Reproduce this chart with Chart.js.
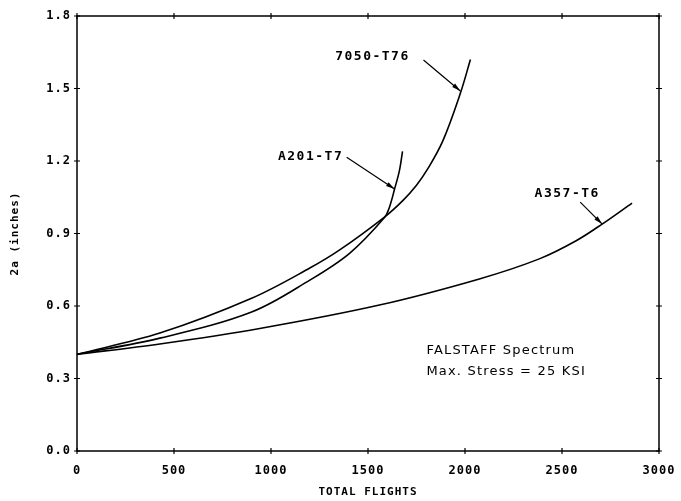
<!DOCTYPE html>
<html>
<head>
<meta charset="utf-8">
<script src="https://cdn.jsdelivr.net/npm/chart.js@4.4.0/dist/chart.umd.min.js"></script>
<style>
  html, body { margin: 0; padding: 0; background: #fff; }
</style>
</head>
<body>
<canvas id="crackChart" width="681" height="501"></canvas>
<script>
// tick values
const xTicks = [0, 500, 1000, 1500, 2000, 2500, 3000];
const yTicks = [0, 0.3, 0.6, 0.9, 1.2, 1.5, 1.8];

// crack length 2a (inches) vs total flights
const flights7050 = [0, 427, 900, 1200, 1354, 1585, 1678, 1750, 1806, 1884, 1976, 2028];
const crack7050   = [0.40, 0.488, 0.632, 0.757, 0.832, 0.968, 1.035, 1.10, 1.165, 1.28, 1.48, 1.62];

const flightsA201 = [0, 427, 900, 1200, 1405, 1585, 1611, 1637, 1662, 1678];
const crackA201   = [0.40, 0.467, 0.575, 0.707, 0.818, 0.966, 1.01, 1.084, 1.16, 1.24];

const flightsA357 = [0, 427, 942, 1559, 2074, 2383, 2573, 2707, 2861];
const crackA357   = [0.40, 0.443, 0.507, 0.604, 0.712, 0.795, 0.87, 0.939, 1.026];

// callouts: label centre, arrow start, arrow tip (data units)
const callouts = [
    { text: '7050-T76', label: [1523, 1.63], from: [1786, 1.618], to: [1976, 1.49] },
    { text: 'A201-T7', label: [1204, 1.22], from: [1390, 1.216], to: [1637, 1.084] },
    { text: 'A357-T6', label: [2527, 1.067], from: [2594, 1.03], to: [2707, 0.939] }
];
const noteLines = ['FALSTAFF Spectrum', 'Max. Stress = 25 KSI'];
const notePos = [1801, 0.414, 0.327];

function toPoints(xs, ys) {
    return xs.map((x, i) => ({ x: x, y: ys[i] }));
}

function curve(xs, ys) {
    return {
        data: toPoints(xs, ys),
        showLine: true,
        borderColor: '#000',
        borderWidth: 1.6,
        pointRadius: 0,
        tension: 0.35,
        fill: false
    };
}

const spacing = {
    id: 'spacing',
    beforeDraw(chart) {
        chart.ctx.letterSpacing = '1px';
    }
};

// frame with ticks crossing all four sides, callouts and the note
const frame = {
    id: 'frame',
    afterDraw(chart) {
        const ctx = chart.ctx;
        const a = chart.chartArea;
        const xs = chart.scales.x;
        const ys = chart.scales.y;
        ctx.save();
        ctx.strokeStyle = '#000';
        ctx.lineWidth = 1.5;
        ctx.strokeRect(a.left, a.top, a.right - a.left, a.bottom - a.top);
        ctx.lineWidth = 1.2;
        ctx.beginPath();
        xTicks.forEach(v => {
            const px = xs.getPixelForValue(v);
            ctx.moveTo(px, a.bottom - 3); ctx.lineTo(px, a.bottom + 3);
            ctx.moveTo(px, a.top - 3); ctx.lineTo(px, a.top + 3);
        });
        yTicks.forEach(v => {
            const py = ys.getPixelForValue(v);
            ctx.moveTo(a.left - 3, py); ctx.lineTo(a.left + 3, py);
            ctx.moveTo(a.right - 3, py); ctx.lineTo(a.right + 3, py);
        });
        ctx.stroke();

        ctx.fillStyle = '#000';
        ctx.letterSpacing = '1.5px';
        ctx.font = 'bold 13px "DejaVu Sans Mono"';
        ctx.textAlign = 'center';
        ctx.textBaseline = 'middle';
        callouts.forEach(c => {
            ctx.fillText(c.text, xs.getPixelForValue(c.label[0]), ys.getPixelForValue(c.label[1]));
            const x1 = xs.getPixelForValue(c.from[0]), y1 = ys.getPixelForValue(c.from[1]);
            const x2 = xs.getPixelForValue(c.to[0]), y2 = ys.getPixelForValue(c.to[1]);
            ctx.lineWidth = 1.2;
            ctx.beginPath();
            ctx.moveTo(x1, y1); ctx.lineTo(x2, y2);
            ctx.stroke();
            const ang = Math.atan2(y2 - y1, x2 - x1);
            ctx.beginPath();
            ctx.moveTo(x2, y2);
            ctx.lineTo(x2 - 9 * Math.cos(ang - 0.25), y2 - 9 * Math.sin(ang - 0.25));
            ctx.lineTo(x2 - 9 * Math.cos(ang + 0.25), y2 - 9 * Math.sin(ang + 0.25));
            ctx.closePath();
            ctx.fill();
        });

        ctx.font = '13px "DejaVu Sans"';
        ctx.letterSpacing = '1.2px';
        ctx.textAlign = 'left';
        ctx.fillText(noteLines[0], xs.getPixelForValue(notePos[0]), ys.getPixelForValue(notePos[1]));
        ctx.fillText(noteLines[1], xs.getPixelForValue(notePos[0]), ys.getPixelForValue(notePos[2]));
        ctx.restore();
    }
};

const ctx = document.getElementById('crackChart').getContext('2d');
const chart = new Chart(ctx, {
    type: 'scatter',
    data: {
        datasets: [
            curve(flights7050, crack7050),
            curve(flightsA201, crackA201),
            curve(flightsA357, crackA357)
        ]
    },
    options: {
        responsive: false,
        animation: false,
        layout: { padding: { top: 16, right: 22, left: 0, bottom: 0 } },
        plugins: {
            legend: { display: false },
            tooltip: { enabled: false }
        },
        scales: {
            x: {
                type: 'linear',
                min: 0,
                max: 3000,
                afterBuildTicks: s => { s.ticks = xTicks.map(v => ({ value: v })); },
                afterFit: s => { s.height = 50; s.paddingLeft = 0; s.paddingRight = 0; },
                grid: { display: false, drawTicks: false },
                border: { display: false },
                ticks: {
                    color: '#000',
                    padding: 13,
                    maxRotation: 0,
                    font: { family: 'DejaVu Sans Mono', size: 12, weight: 'bold' },
                    callback: v => String(v)
                },
                title: {
                    display: true,
                    text: 'TOTAL FLIGHTS',
                    color: '#000',
                    padding: { top: 0, bottom: 2 },
                    font: { family: 'DejaVu Sans Mono', size: 11, weight: 'bold' }
                }
            },
            y: {
                type: 'linear',
                min: 0,
                max: 1.8,
                afterBuildTicks: s => { s.ticks = yTicks.map(v => ({ value: v })); },
                afterFit: s => { s.width = 77; s.paddingTop = 0; s.paddingBottom = 0; },
                grid: { display: false, drawTicks: false },
                border: { display: false },
                ticks: {
                    color: '#000',
                    padding: 6,
                    font: { family: 'DejaVu Sans Mono', size: 12, weight: 'bold' },
                    callback: v => v.toFixed(1)
                },
                title: {
                    display: true,
                    text: '2a (inches)',
                    color: '#000',
                    padding: { top: 9, bottom: 0 },
                    font: { family: 'DejaVu Sans Mono', size: 11, weight: 'bold' }
                }
            }
        }
    },
    plugins: [spacing, frame]
});
</script>
</body>
</html>
